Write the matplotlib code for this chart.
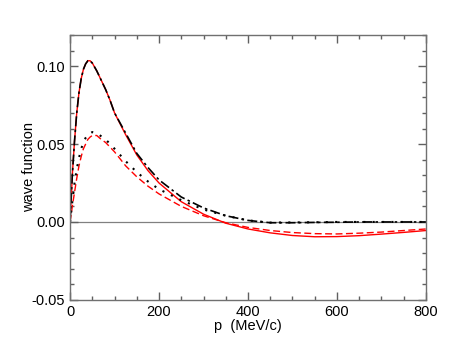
import matplotlib
matplotlib.use("Agg")
import matplotlib.pyplot as plt
from matplotlib.ticker import MultipleLocator

plt.rcParams["font.family"] = ["Liberation Sans", "DejaVu Sans"]

# momentum grid (MeV/c)
p = [0, 5, 10, 15, 20, 25, 30, 35, 40, 45, 50, 60, 70, 80, 90, 100, 125, 150, 175, 200,
     250, 300, 350, 400, 450, 500, 550, 600, 650, 700, 750, 800]

# upper pair
black_dashdot = [0, 0.030, 0.052, 0.070, 0.083, 0.092, 0.098, 0.1015, 0.1035, 0.1035, 0.102,
                 0.097, 0.091, 0.085, 0.078, 0.070, 0.057, 0.044, 0.035, 0.027,
                 0.016, 0.009, 0.004, 0.001, -0.0005, -0.0005, -0.0003, -0.0002, 0, 0, 0, 0]
red_solid = [0, 0.030, 0.052, 0.070, 0.083, 0.092, 0.098, 0.1015, 0.1035, 0.1035, 0.102,
             0.097, 0.091, 0.085, 0.078, 0.070, 0.056, 0.043, 0.033, 0.025,
             0.013, 0.005, -0.0008, -0.0045, -0.007, -0.0087, -0.0095, -0.0094, -0.0088,
             -0.0078, -0.0067, -0.0055]

# lower pair
black_dotted = [0, 0.013, 0.025, 0.034, 0.041, 0.047, 0.051, 0.054, 0.056, 0.057, 0.0577,
                0.057, 0.055, 0.053, 0.050, 0.047, 0.039, 0.032, 0.026, 0.021,
                0.014, 0.008, 0.004, 0.001, -0.0004, -0.0003, -0.0002, 0, 0, 0, 0, 0]
red_dashed = [0, 0.010, 0.019, 0.028, 0.036, 0.042, 0.047, 0.050, 0.053, 0.0545, 0.0555,
              0.0555, 0.053, 0.051, 0.048, 0.045, 0.036, 0.029, 0.023, 0.018,
              0.010, 0.004, -0.0005, -0.0035, -0.0055, -0.0068, -0.0075, -0.0077, -0.0072,
              -0.0065, -0.0055, -0.0045]

fig = plt.figure(figsize=(4.58, 3.54), dpi=100)
ax = fig.add_axes([0.153, 0.153, 0.777, 0.748])

ax.axhline(0, color="#808080", lw=0.9, zorder=1)
ax.plot(p, red_solid, color="red", lw=1.0)
ax.plot(p, red_dashed, color="red", lw=1.0, ls=(0, (5, 2.5)))
ax.plot(p, black_dashdot, color="black", lw=1.2, ls=(0, (6, 2, 1.5, 2)))
ax.plot(p, black_dotted, color="black", lw=1.5, ls=(0, (1, 3.5)))

ax.set_xlim(0, 800)
ax.set_ylim(-0.05, 0.12)
ax.xaxis.set_major_locator(MultipleLocator(200))
ax.xaxis.set_minor_locator(MultipleLocator(50))
ax.yaxis.set_major_locator(MultipleLocator(0.05))
ax.yaxis.set_minor_locator(MultipleLocator(0.01))
ax.yaxis.set_major_formatter(plt.FuncFormatter(lambda v, _: "%.2f" % v))

ax.tick_params(which="both", direction="in", top=True, right=True, colors="#606060",
               labelcolor="black", labelsize=10.5)
ax.tick_params(which="major", length=6, width=1)
ax.tick_params(which="minor", length=3, width=1)
for s in ax.spines.values():
    s.set_color("#707070")
    s.set_linewidth(1)

ax.set_xlabel("p  (MeV/c)", fontsize=10.5, labelpad=0)
ax.set_ylabel("wave function", fontsize=10.5, labelpad=-3)

fig.savefig("out.png", dpi=100)
